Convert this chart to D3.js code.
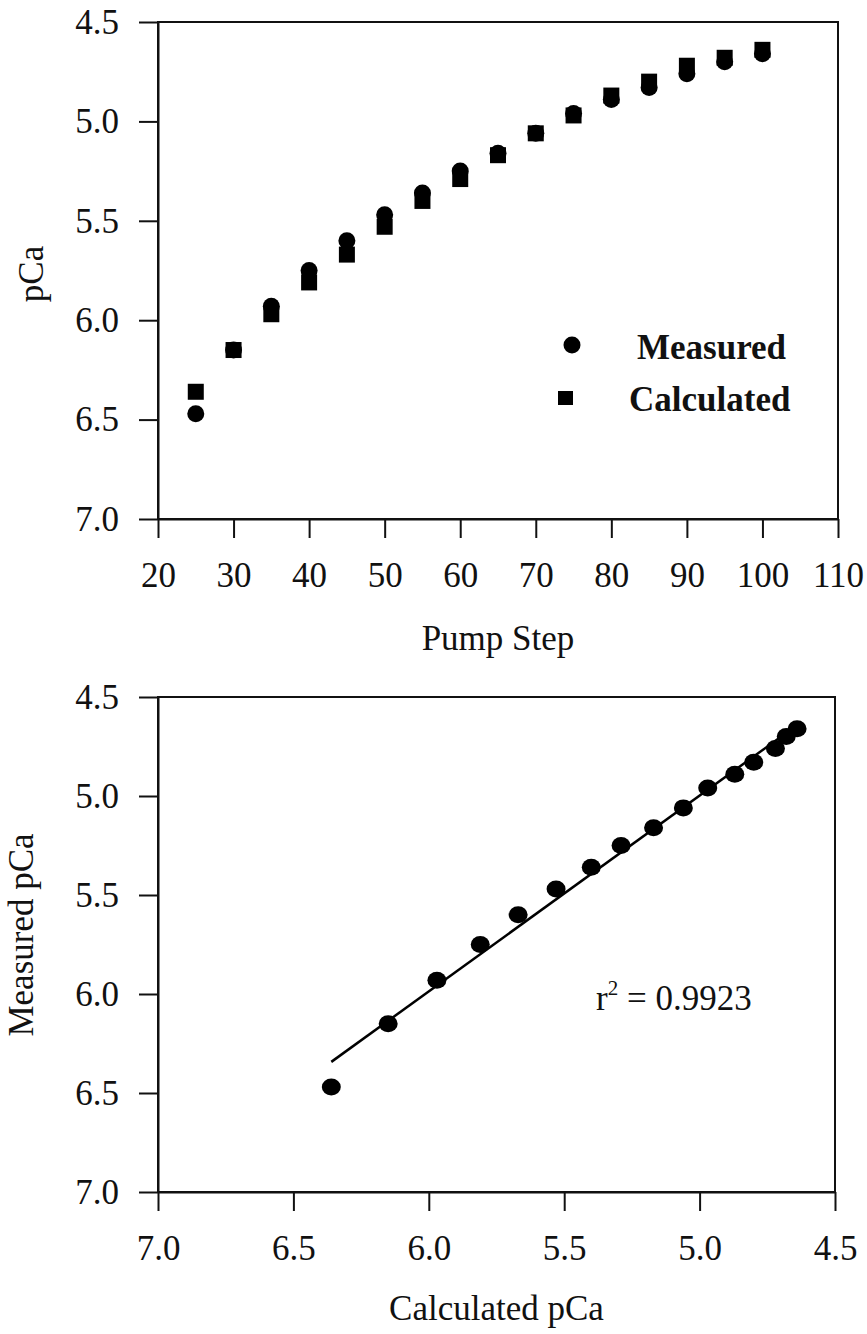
<!DOCTYPE html>
<html>
<head>
<meta charset="utf-8">
<script src="https://cdn.jsdelivr.net/npm/d3@7"></script>
<style>
  body { margin: 0; background: #fff; }
  text { font-family: "Liberation Serif", "Times New Roman", serif; fill: #111; }
</style>
</head>
<body>
<div id="vis"></div>
<script>
// data
const pumpSteps = [25, 30, 35, 40, 45, 50, 55, 60, 65, 70, 75, 80, 85, 90, 95, 100];
const measuredPCa = [6.47, 6.15, 5.93, 5.75, 5.60, 5.47, 5.36, 5.25, 5.16, 5.06, 4.96, 4.89, 4.83, 4.76, 4.70, 4.66];
const calculatedPCa = [6.36, 6.15, 5.97, 5.81, 5.67, 5.53, 5.40, 5.29, 5.17, 5.06, 4.97, 4.87, 4.80, 4.72, 4.68, 4.64];
const pumpTicks = [20, 30, 40, 50, 60, 70, 80, 90, 100, 110];
const pcaTicks = [4.5, 5.0, 5.5, 6.0, 6.5, 7.0];
const legendLabels = ["Measured", "Calculated"];
const r2Value = "0.9923";

const W = 867, H = 1334;
const fontSize = 35;
const serif = '"Liberation Serif", "Times New Roman", serif';

let svg = d3.select('#vis')
  .append('svg')
  .attr('width', W)
  .attr('height', H);

// style an axis group like the figure
function styleAxis(g) {
  g.attr('font-size', fontSize)
    .attr('font-family', serif);
  g.select('.domain').attr('stroke', '#111').attr('stroke-width', 2);
  g.selectAll('.tick line').attr('stroke', '#111').attr('stroke-width', 2);
  g.selectAll('.tick text')
    .attr('fill', '#111')
    .style('font-family', serif);
}

function frame(x, y) {
  svg.append('rect')
    .attr('x', x.range()[0])
    .attr('y', y.range()[0])
    .attr('width', x.range()[1] - x.range()[0])
    .attr('height', y.range()[1] - y.range()[0])
    .attr('fill', 'none')
    .attr('stroke', '#111')
    .attr('stroke-width', 2);
}

// ---------- top chart: pCa vs pump step ----------
let x1 = d3.scaleLinear().domain([20, 110]).range([158, 838]);
let y1 = d3.scaleLinear().domain([4.5, 7.0]).range([22, 519]);

frame(x1, y1);

svg.append('g')
  .attr('transform', `translate(0,${y1.range()[1]})`)
  .call(d3.axisBottom(x1).tickValues(pumpTicks).tickFormat(d3.format('d'))
    .tickSize(19).tickSizeOuter(0).tickPadding(24))
  .call(styleAxis);

svg.append('g')
  .attr('transform', `translate(${x1.range()[0]},0)`)
  .call(d3.axisLeft(y1).tickValues(pcaTicks).tickFormat(d3.format('.1f'))
    .tickSize(19).tickSizeOuter(0).tickPadding(20))
  .call(styleAxis);

svg.append('text')
  .attr('x', (x1.range()[0] + x1.range()[1]) / 2)
  .attr('y', 650)
  .attr('text-anchor', 'middle')
  .attr('font-size', fontSize)
  .text('Pump Step');

svg.append('text')
  .attr('transform', `translate(43,274) rotate(-90)`)
  .attr('text-anchor', 'middle')
  .attr('font-size', fontSize)
  .text('pCa');

const sq = 16;
svg.append('g')
  .selectAll('rect')
  .data(pumpSteps)
  .join('rect')
    .attr('x', (d, i) => x1(d) - sq / 2)
    .attr('y', (d, i) => y1(calculatedPCa[i]) - sq / 2)
    .attr('width', sq)
    .attr('height', sq)
    .attr('fill', '#000');

svg.append('g')
  .selectAll('circle')
  .data(pumpSteps)
  .join('circle')
    .attr('cx', d => x1(d))
    .attr('cy', (d, i) => y1(measuredPCa[i]))
    .attr('r', 8.5)
    .attr('fill', '#000');

// legend
let legend = svg.append('g');
legend.append('circle').attr('cx', 572).attr('cy', 345).attr('r', 8.5).attr('fill', '#000');
legend.append('rect').attr('x', 558).attr('y', 391).attr('width', 15).attr('height', 14).attr('fill', '#000');
legend.selectAll('text')
  .data(legendLabels)
  .join('text')
    .attr('x', (d, i) => i ? 629 : 637)
    .attr('y', (d, i) => i ? 411 : 359)
    .attr('font-size', fontSize)
    .attr('font-weight', 'bold')
    .text(d => d);

// ---------- bottom chart: measured vs calculated ----------
let x2 = d3.scaleLinear().domain([7.0, 4.5]).range([158, 835]);
let y2 = d3.scaleLinear().domain([4.5, 7.0]).range([697, 1192]);

frame(x2, y2);

svg.append('g')
  .attr('transform', `translate(0,${y2.range()[1]})`)
  .call(d3.axisBottom(x2).tickValues(pcaTicks).tickFormat(d3.format('.1f'))
    .tickSize(19).tickSizeOuter(0).tickPadding(24))
  .call(styleAxis);

svg.append('g')
  .attr('transform', `translate(${x2.range()[0]},0)`)
  .call(d3.axisLeft(y2).tickValues(pcaTicks).tickFormat(d3.format('.1f'))
    .tickSize(19).tickSizeOuter(0).tickPadding(20))
  .call(styleAxis);

svg.append('text')
  .attr('x', (x2.range()[0] + x2.range()[1]) / 2)
  .attr('y', 1320)
  .attr('text-anchor', 'middle')
  .attr('font-size', fontSize)
  .text('Calculated pCa');

svg.append('text')
  .attr('transform', `translate(33,935) rotate(-90)`)
  .attr('text-anchor', 'middle')
  .attr('font-size', fontSize)
  .text('Measured pCa');

// least squares fit of measured on calculated
let mx = d3.mean(calculatedPCa), my = d3.mean(measuredPCa);
let slope = d3.sum(calculatedPCa, (c, i) => (c - mx) * (measuredPCa[i] - my)) /
            d3.sum(calculatedPCa, c => (c - mx) ** 2);
let intercept = my - slope * mx;
let fitX = d3.extent(calculatedPCa);

svg.append('line')
  .attr('x1', x2(fitX[1]))
  .attr('y1', y2(intercept + slope * fitX[1]))
  .attr('x2', x2(fitX[0]))
  .attr('y2', y2(intercept + slope * fitX[0]))
  .attr('stroke', '#000')
  .attr('stroke-width', 2.5);

svg.append('g')
  .selectAll('ellipse')
  .data(calculatedPCa)
  .join('ellipse')
    .attr('cx', d => x2(d))
    .attr('cy', (d, i) => y2(measuredPCa[i]))
    .attr('rx', 9.5)
    .attr('ry', 8.5)
    .attr('fill', '#000');

let r2 = svg.append('text')
  .attr('x', 596)
  .attr('y', 1010)
  .attr('font-size', fontSize);
r2.append('tspan').text('r');
r2.append('tspan').attr('font-size', 21).attr('dy', -15).text('2');
r2.append('tspan').attr('dy', 15).text(' = ' + r2Value);
</script>
</body>
</html>
